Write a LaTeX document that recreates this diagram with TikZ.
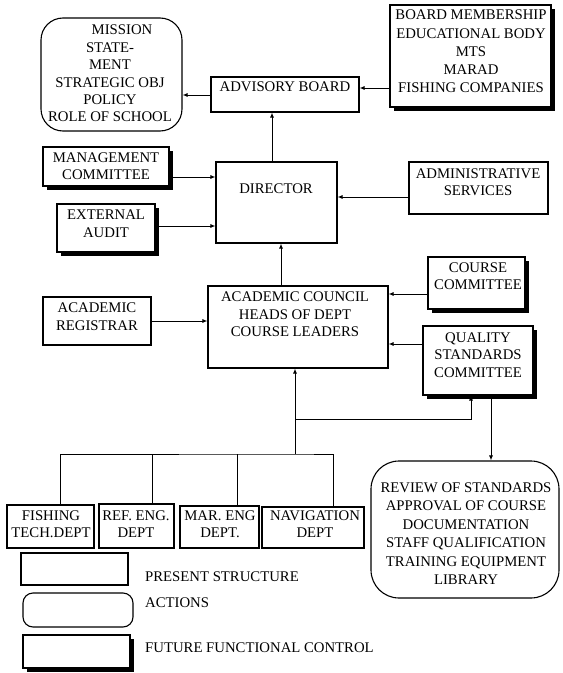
\documentclass[tikz,border=0pt]{standalone}
\usepackage{fontspec}
\setmainfont{Liberation Serif}
\usetikzlibrary{fit,shadows,arrows.meta}
\begin{document}
\begin{tikzpicture}[x=1bp,y=-1bp,
  every node/.style={font=\fontsize{14.8}{17.5}\selectfont},
  box/.style={draw, line width=1.1bp, inner sep=0pt, fill=white},
  fbox/.style={box, drop shadow={shadow xshift=4bp, shadow yshift=-4bp, fill=black, opacity=1}},
  abox/.style={box, rounded corners=#1},
  abox/.default=22bp,
  txt/.style={align=center, inner sep=0pt},
  arr/.style={line width=0.9bp, -{Latex[length=5bp,width=4bp]}},
  ln/.style={line width=0.9bp}]
\useasboundingbox (0,0) rectangle (563,673);

% boxes and texts
\node[abox=22bp, fit={(41,18)(182,131)}] (mis) {};
\node[txt] (mist) at (110,73.5) {\hspace*{24bp}MISSION\\STATE-\\MENT\\STRATEGIC OBJ\\POLICY\\ROLE OF SCHOOL};

\node[fbox, fit={(390,5)(551,107)}] (bm) {};
\node[txt, font=\fontsize{14.8}{18.3}\selectfont] (bmt) at (471,51.5) {BOARD MEMBERSHIP\\EDUCATIONAL BODY\\MTS\\MARAD\\FISHING COMPANIES};

\node[box, fit={(211,77)(359,112)}] (adv) {};
\node[txt] (advt) at (285,87) {ADVISORY BOARD};

\node[box, fit={(216,162)(337,243)}] (dir) {};
\node[txt] (dirt) at (276,189) {DIRECTOR};

\node[fbox, fit={(43,147)(169,186)}] (mgmt) {};
\node[txt] (mgmtt) at (106,166) {MANAGEMENT\\COMMITTEE};

\node[fbox, fit={(57,204)(155,252)}] (ext) {};
\node[txt] (extt) at (106,223.5) {EXTERNAL\\AUDIT};

\node[box, fit={(409,162)(548,214)}] (adm) {};
\node[txt] (admt) at (478,182) {ADMINISTRATIVE\\SERVICES};

\node[box, fit={(208,286)(388,368)}] (cou) {};
\node[txt] (cout) at (295,314.5) {ACADEMIC COUNCIL\\HEADS OF DEPT\\COURSE LEADERS};

\node[box, fit={(43,297)(151,345)}] (reg) {};
\node[txt] (regt) at (97,316.5) {ACADEMIC\\REGISTRAR};

\node[fbox, fit={(428,257)(525,309)}] (crs) {};
\node[txt] (crst) at (478,276) {COURSE\\COMMITTEE};

\node[fbox, fit={(423,326)(533,395)}] (qsc) {};
\node[txt] (qsct) at (478,355) {QUALITY\\STANDARDS\\COMMITTEE};

\node[box, fit={(7,505)(94,548)}] (fish) {};
\node[txt] (fisht) at (51,524) {FISHING\\TECH.DEPT};
\node[box, fit={(99,504)(174,548)}] (ref) {};
\node[txt] (reft) at (136,524) {REF. ENG.\\DEPT};
\node[box, fit={(180,506)(259,548)}] (mar) {};
\node[txt] (mart) at (220,524) {MAR. ENG\\DEPT.};
\node[box, fit={(262,507)(364,548)}] (nav) {};
\node[txt] (navt) at (315,524) {NAVIGATION\\DEPT};

\node[abox=28bp, fit={(371,461)(559,598)}] (rev) {};
\node[txt, font=\fontsize{14.8}{18.6}\selectfont] (revt) at (466,533.5) {REVIEW OF STANDARDS\\APPROVAL OF COURSE\\DOCUMENTATION\\STAFF QUALIFICATION\\TRAINING EQUIPMENT\\LIBRARY};

% legend
\node[box, fit={(21,553)(128,585)}] (lg1) {};
\node[txt, anchor=west] (lg1t) at (145,577) {PRESENT STRUCTURE};
\node[abox=10bp, fit={(23,593)(133,627)}] (lg2) {};
\node[txt, anchor=west] (lg2t) at (145,603) {ACTIONS};
\node[fbox, fit={(23,635)(130,668)}] (lg3) {};
\node[txt, anchor=west] (lg3t) at (145,648) {FUTURE FUNCTIONAL CONTROL};

% connectors
\draw[arr] (bm.west |- 0,88) -- (adv.east |- 0,88);
\draw[arr] (adv.west |- 0,95) -- (mis.east |- 0,95);
\draw[arr] (dir.north -| 272,0) -- (adv.south -| 272,0);
\draw[arr] (cou.north -| 281,0) -- (dir.south -| 281,0);
\draw[arr] (mgmt.east |- 0,177) -- (dir.west |- 0,177);
\draw[arr] (ext.east |- 0,226) -- (dir.west |- 0,226);
\draw[arr] (adm.west |- 0,197) -- (dir.east |- 0,197);
\draw[arr] (reg.east |- 0,321) -- (cou.west |- 0,321);
\draw[arr] (crs.west |- 0,294) -- (cou.east |- 0,294);
\draw[arr] (qsc.west |- 0,344) -- (cou.east |- 0,344);

\coordinate (bus) at (295,454);
\coordinate (qj) at (295,419);
\draw[arr] (bus) -- (cou.south -| bus);
\draw[arr] (qj) -| (qsc.south -| 471,0);
\draw[arr] (qsc.south -| 491,0) -- (rev.north -| 491,0);
\draw[ln] (fish.north -| 60,0) |- (bus) -| (nav.north -| 333,0);
\draw[ln] (ref.north -| 152,0) -- (bus -| 152,0);
\draw[ln] (mar.north -| 237,0) -- (bus -| 237,0);
\end{tikzpicture}
\end{document}
